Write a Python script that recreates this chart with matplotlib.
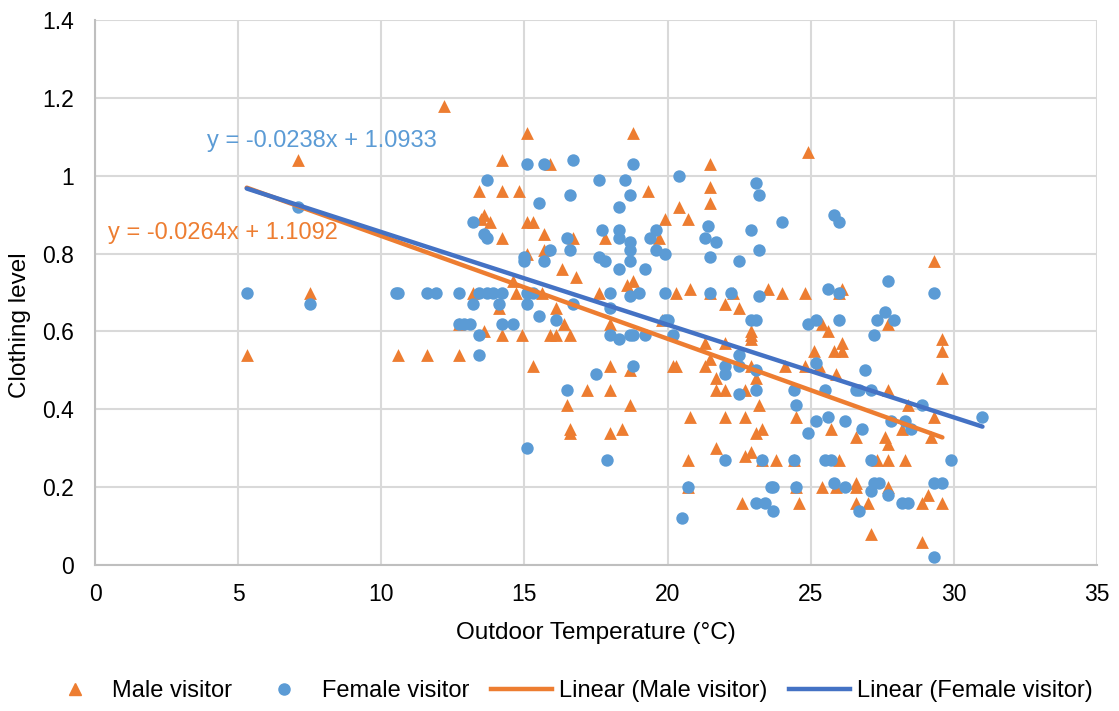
import matplotlib
matplotlib.use("Agg")
import matplotlib.pyplot as plt
from matplotlib.ticker import FuncFormatter
from matplotlib.lines import Line2D

plt.rcParams['font.family'] = ['Liberation Sans', 'DejaVu Sans']

# ========== Data ==========
male_x = [5.3, 7.1, 7.5, 10.6, 11.6, 12.2, 12.7, 13.2, 12.7,
          15.1, 18.8, 14.2, 15.9, 13.4, 14.2, 14.8, 19.3,
          13.5, 13.6, 13.8, 15.1, 15.3, 19.9, 20.4,
          14.2, 15.7, 16.7, 17.8, 19.7, 15.1, 15.7, 16.3, 16.8, 18.8, 14.6, 17.6,
          14.7, 15.6, 18.6, 20.3, 14.1, 16.1, 16.4, 18.0,
          13.6, 14.2, 14.9, 15.9, 16.1, 16.6, 15.3, 18.0, 18.7, 20.3,
          17.2, 18.0, 16.5, 18.7, 16.6, 16.6, 18.0, 18.4,
          24.9, 21.5, 21.5, 21.5, 20.7, 29.3,
          20.8, 21.5, 22.3, 23.5, 24.0, 24.8, 26.1, 26.0, 22.0, 22.5, 25.4, 27.7, 19.8,
          22.9, 22.9, 22.9, 25.6, 29.6, 29.6, 29.6,
          21.3, 22.0, 25.1, 25.8, 26.1, 26.1, 21.5, 20.2, 21.3, 22.9, 24.1, 24.8, 25.3,
          25.9, 21.7, 21.7, 22.0, 22.7, 23.1, 23.2, 27.7,
          20.8, 22.0, 22.7, 24.5, 25.7, 23.1, 23.3, 26.6, 27.6, 27.7, 28.2, 28.4, 29.2, 29.3,
          20.7, 22.7, 22.9, 21.7, 23.3, 23.8, 24.4, 26.0, 27.3, 27.7, 28.3,
          20.7, 24.5, 25.4, 25.9, 26.6, 26.6, 27.7, 29.1,
          22.6, 24.6, 26.6, 27.0, 28.9, 29.6, 27.1, 28.9]
male_y = [0.54, 1.04, 0.70, 0.54, 0.54, 1.18, 0.54, 0.70, 0.62,
          1.11, 1.11, 1.04, 1.03, 0.96, 0.96, 0.96, 0.96,
          0.89, 0.90, 0.88, 0.88, 0.88, 0.89, 0.92,
          0.84, 0.85, 0.84, 0.84, 0.84, 0.80, 0.81, 0.76, 0.74, 0.73, 0.73, 0.70,
          0.70, 0.70, 0.72, 0.70, 0.66, 0.66, 0.62, 0.62,
          0.60, 0.59, 0.59, 0.59, 0.59, 0.59, 0.51, 0.51, 0.50, 0.51,
          0.45, 0.45, 0.41, 0.41, 0.35, 0.34, 0.34, 0.35,
          1.06, 1.03, 0.97, 0.93, 0.89, 0.78,
          0.71, 0.70, 0.70, 0.71, 0.70, 0.70, 0.71, 0.70, 0.67, 0.66, 0.62, 0.62, 0.63,
          0.60, 0.59, 0.58, 0.60, 0.58, 0.55, 0.48,
          0.57, 0.57, 0.55, 0.55, 0.57, 0.55, 0.53, 0.51, 0.51, 0.51, 0.51, 0.51, 0.51,
          0.49, 0.48, 0.45, 0.45, 0.45, 0.48, 0.41, 0.45,
          0.38, 0.38, 0.38, 0.38, 0.35, 0.34, 0.35, 0.33, 0.33, 0.31, 0.35, 0.41, 0.33, 0.38,
          0.27, 0.28, 0.29, 0.30, 0.27, 0.27, 0.27, 0.27, 0.27, 0.27, 0.27,
          0.20, 0.20, 0.20, 0.20, 0.21, 0.20, 0.20, 0.18,
          0.16, 0.16, 0.16, 0.16, 0.16, 0.16, 0.08, 0.06]

female_x = [5.3, 7.1, 7.5, 10.5, 10.6, 11.6, 11.9, 12.7,
            15.1, 15.7, 16.7, 18.8, 13.7, 16.6, 17.6, 18.5, 18.7, 18.3, 15.5, 20.4,
            13.2, 13.6, 13.7, 16.5, 16.6, 17.7, 18.3, 18.3, 18.7, 18.7, 18.7, 19.4, 19.6,
            19.6, 19.9, 15.9, 15.0, 15.0, 15.7, 17.6, 17.8, 18.3, 19.2,
            13.4, 13.7, 13.9, 14.2, 15.1, 15.3, 18.0, 18.7, 19.0, 19.9,
            13.2, 14.1, 15.1, 16.7, 18.0,
            12.7, 12.9, 13.1, 14.2, 14.6, 15.5, 16.1, 19.9,
            13.4, 18.0, 18.3, 18.7, 18.8, 19.2, 13.4,
            18.8, 17.5, 16.5, 15.1, 17.9, 20.5,
            23.1, 23.2, 24.0, 25.8, 26.0, 21.4, 21.3, 21.7, 21.5, 22.5, 22.9, 23.2,
            21.5, 22.2, 23.2, 25.6, 26.0, 29.3, 27.7,
            27.6, 27.9, 27.3, 26.0, 25.2, 24.9, 22.9, 23.1, 20.0, 20.2, 27.2,
            22.0, 22.0, 22.5, 22.5, 23.1, 23.1, 22.5, 25.2, 24.4, 24.5, 24.9, 25.5,
            26.9, 26.6, 26.7, 27.1, 25.2, 25.6, 26.2, 26.8, 27.8, 28.3, 28.5, 28.9, 31.0,
            22.0, 23.3, 24.4, 25.5, 25.7, 27.1, 29.9,
            20.7, 23.6, 23.7, 24.5, 25.8, 26.2, 27.2, 27.4, 27.1, 27.7, 29.3, 29.6,
            23.1, 23.4, 23.7, 26.7, 28.2, 28.4, 29.3]
female_y = [0.70, 0.92, 0.67, 0.70, 0.70, 0.70, 0.70, 0.70,
            1.03, 1.03, 1.04, 1.03, 0.99, 0.95, 0.99, 0.99, 0.95, 0.92, 0.93, 1.00,
            0.88, 0.85, 0.84, 0.84, 0.81, 0.86, 0.86, 0.84, 0.83, 0.81, 0.78, 0.84, 0.86,
            0.81, 0.80, 0.81, 0.79, 0.78, 0.78, 0.79, 0.78, 0.76, 0.76,
            0.70, 0.70, 0.70, 0.70, 0.70, 0.70, 0.70, 0.69, 0.70, 0.70,
            0.67, 0.67, 0.67, 0.67, 0.66,
            0.62, 0.62, 0.62, 0.62, 0.62, 0.64, 0.63, 0.63,
            0.59, 0.59, 0.58, 0.59, 0.59, 0.59, 0.54,
            0.51, 0.49, 0.45, 0.30, 0.27, 0.12,
            0.98, 0.95, 0.88, 0.90, 0.88, 0.87, 0.84, 0.83, 0.79, 0.78, 0.86, 0.81,
            0.70, 0.70, 0.69, 0.71, 0.70, 0.70, 0.73,
            0.65, 0.63, 0.63, 0.63, 0.63, 0.62, 0.63, 0.63, 0.63, 0.59, 0.59,
            0.51, 0.49, 0.54, 0.51, 0.50, 0.45, 0.44, 0.52, 0.45, 0.41, 0.34, 0.45,
            0.50, 0.45, 0.45, 0.45, 0.37, 0.38, 0.37, 0.35, 0.37, 0.37, 0.35, 0.41, 0.38,
            0.27, 0.27, 0.27, 0.27, 0.27, 0.27, 0.27,
            0.20, 0.20, 0.20, 0.20, 0.21, 0.20, 0.21, 0.21, 0.19, 0.18, 0.21, 0.21,
            0.16, 0.16, 0.14, 0.14, 0.16, 0.16, 0.02]

# Excel trendline coefficients (slope, intercept) as printed on the chart
male_fit = [-0.0264, 1.1092]
female_fit = [-0.0238, 1.0933]

MALE_COLOR = "#ED7D31"
FEMALE_COLOR = "#5B9BD5"
FEMALE_LINE = "#4472C4"
FS = 17


def trend(xs, fit):
    x0, x1 = min(xs), max(xs)
    return [x0, x1], [fit[0] * x0 + fit[1], fit[0] * x1 + fit[1]]


def main():
    fig = plt.figure(figsize=(11.19, 7.11), dpi=100)
    ax = fig.add_axes([0.0849, 0.2053, 0.8954, 0.7666])

    ax.scatter(male_x, male_y, marker="^", s=85, color=MALE_COLOR, linewidths=0, zorder=3)
    ax.scatter(female_x, female_y, marker="o", s=80, color=FEMALE_COLOR, linewidths=0, zorder=4)

    mx, my = trend(male_x, male_fit)
    fx, fy = trend(female_x, female_fit)
    ax.plot(mx, my, color=MALE_COLOR, lw=3.2, solid_capstyle="round", zorder=5)
    ax.plot(fx, fy, color=FEMALE_LINE, lw=3.2, solid_capstyle="round", zorder=6)

    ax.text(3.9, 1.088, "y = -0.0238x + 1.0933", color=FEMALE_COLOR, fontsize=FS, va="center")
    ax.text(0.45, 0.853, "y = -0.0264x + 1.1092", color=MALE_COLOR, fontsize=FS, va="center")

    ax.set_xlim(0, 35)
    ax.set_ylim(0, 1.4)
    ax.set_xticks(range(0, 36, 5))
    ax.set_yticks([i * 0.2 for i in range(8)])
    ax.yaxis.set_major_formatter(FuncFormatter(lambda v, p: f"{v:g}"))
    ax.tick_params(length=0, labelsize=16.5, colors="#000000")
    ax.tick_params(axis="y", pad=15)
    ax.tick_params(axis="x", pad=13)
    ax.grid(True, color="#D9D9D9", lw=1.5, zorder=0)
    ax.set_axisbelow(True)
    for side in ["top", "right"]:
        ax.spines[side].set_visible(False)
    for side in ["left", "bottom"]:
        ax.spines[side].set_color("#BFBFBF")
        ax.spines[side].set_linewidth(1.5)

    ax.set_xlabel("Outdoor Temperature (°C)", fontsize=17.5)
    ax.xaxis.set_label_coords(0.5, -0.105)
    ax.set_ylabel("Clothing level", fontsize=17.5)
    ax.yaxis.set_label_coords(-0.064, 0.44)

    handles = [
        Line2D([], [], marker="^", ls="none", color=MALE_COLOR, markersize=8),
        Line2D([], [], marker="o", ls="none", color=FEMALE_COLOR, markersize=8),
        Line2D([], [], color=MALE_COLOR, lw=3.2),
        Line2D([], [], color=FEMALE_LINE, lw=3.2),
    ]
    labels = ["Male visitor", "Female visitor", "Linear (Male visitor)", "Linear (Female visitor)"]
    fig.legend(handles, labels, loc="center", bbox_to_anchor=(0.508, 0.028), ncol=4,
               frameon=False, fontsize=FS, handlelength=2.6, columnspacing=0.9,
               handletextpad=0.3)

    fig.savefig("out.png", dpi=100)


if __name__ == "__main__":
    main()
